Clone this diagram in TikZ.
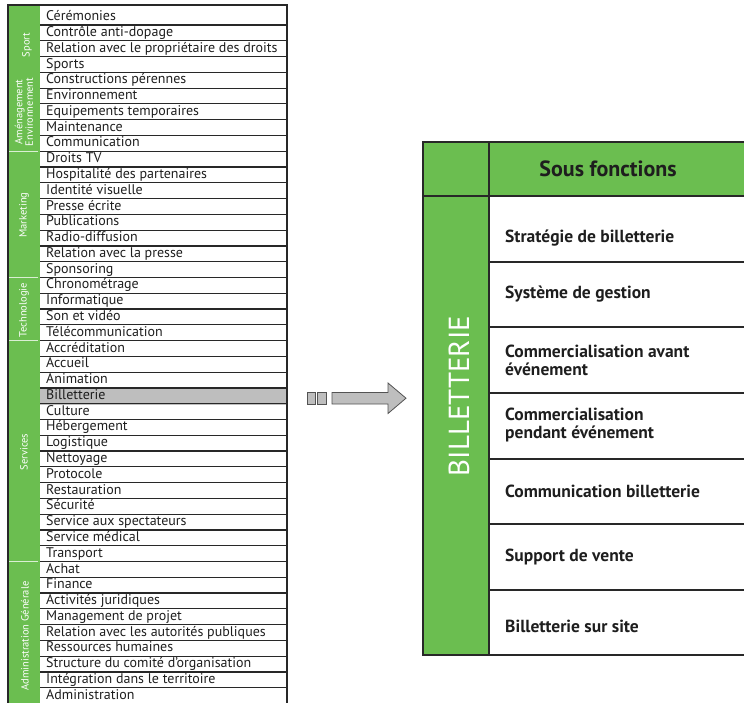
\documentclass[tikz,border=0pt]{standalone}
\usepackage{fontspec}
\setmainfont{PT Sans}
\usetikzlibrary{positioning}
\definecolor{fnGreen}{RGB}{107,190,80}
\definecolor{ruleDark}{RGB}{40,40,40}
\definecolor{rowGray}{RGB}{190,190,190}
\definecolor{inkDark}{RGB}{30,30,30}

\begin{document}
\begin{tikzpicture}[x=1pt, y=-1pt,
    rowtxt/.style={anchor=west, inner sep=0pt, text=inkDark,
      text height=9.5pt, text depth=2.5pt,
      font=\fontsize{14}{14}\selectfont},
    rowline/.style={draw=ruleDark, line width=1.2pt},
    grplabel/.style={rotate=90, text=white, align=center, inner sep=0pt,
      font=\fontsize{10.5}{10.5}\selectfont},
    grpsep/.style={draw=white!75!fnGreen, line width=1.2pt},
    frame/.style={draw=ruleDark, line width=1.4pt},
    arrowbox/.style={draw=ruleDark!80, fill=rowGray, line width=0.8pt},
    subcell/.style={anchor=west, inner sep=0pt, align=left, text=inkDark,
      font=\fontsize{17.5}{18}\selectfont\bfseries}
  ]
  \useasboundingbox (0,0) rectangle (744,703);

  % Left table: functions
  \fill[fnGreen] (8,5) rectangle (40,706);
  \fill[rowGray] (40,388.9) rectangle (287,404.6);
  \foreach \k in {1,...,43}
    \draw[rowline] (40,{25+(\k-1)*15.78}) -- (287,{25+(\k-1)*15.78});
  \foreach \txt [count=\i] in {Cérémonies, Contrôle anti-dopage,
      Relation avec le propriétaire des droits, Sports,
      Constructions pérennes, Environnement, Equipements temporaires,
      Maintenance, Communication, Droits TV, Hospitalité des partenaires,
      Identité visuelle, Presse écrite, Publications, Radio-diffusion,
      Relation avec la presse, Sponsoring, Chronométrage, Informatique,
      Son et vidéo, Télécommunication, Accréditation, Accueil, Animation,
      Billetterie, Culture, Hébergement, Logistique, Nettoyage, Protocole,
      Restauration, Sécurité, Service aux spectateurs, Service médical,
      Transport, Achat, Finance, Activités juridiques, Management de projet,
      Relation avec les autorités publiques, Ressources humaines,
      Structure du comité d'organisation, Intégration dans le territoire,
      Administration}
    \node[rowtxt] (f\i) at (46,{25+(\i-1)*15.78-7.8}) {\txt};

  % Groups
  \foreach \y in {151.2,277.5,340.6,561.5}
    \draw[grpsep] (9,\y) -- (38,\y);
  \node[grplabel] (gSport) at (27,45) {Sport};
  \node[grplabel] (gAmen) at (24,112) {Aménagement\\Environnement};
  \node[grplabel] (gMarket) at (24,215) {Marketing};
  \node[grplabel] (gTech) at (24,310) {Technologie};
  \node[grplabel] (gServ) at (24,452) {Services};
  \node[grplabel] (gAdmin) at (25,636) {Administration Générale};
  \draw[frame] (8,706) -- (8,5) -- (287,5) -- (287,706);

  % Arrow
  \draw[arrowbox] (307,392.5) rectangle (315.5,404);
  \draw[arrowbox] (317.5,392.5) rectangle (326,404);
  \draw[arrowbox] (332,392.5) -- (388,392.5) -- (388,383) -- (406,398.2)
    -- (388,413.5) -- (388,404) -- (332,404) -- cycle;

  % Right table: sub-functions
  \fill[fnGreen] (423,142) rectangle (744,196);
  \fill[fnGreen] (423,196) rectangle (489,655);
  \draw[frame] (744,142) -- (423,142) -- (423,655) -- (744,655);
  \draw[frame] (489,142) -- (489,655);
  \draw[frame] (423,196) -- (744,196);
  \foreach \y in {262,327,393,459,524,590}
    \draw[frame] (489,\y) -- (744,\y);
  \node[font=\fontsize{22}{24}\selectfont\bfseries, text=inkDark] (head)
    at (608,169) {Sous fonctions};
  \node[rotate=90, text=white, font=\fontsize{29}{29}\selectfont] (fn)
    at (459,396) {BILLETTERIE};
  \node[subcell] (s1) at (505,238) {Stratégie de billetterie};
  \node[subcell] (s2) at (505,294) {Système de gestion};
  \node[subcell] (s3) at (505,360) {Commercialisation avant\\événement};
  \node[subcell] (s4) at (505,425) {Commercialisation\\pendant événement};
  \node[subcell] (s5) at (505,491) {Communication billetterie};
  \node[subcell] (s6) at (505,557) {Support de vente};
  \node[subcell] (s7) at (505,626) {Billetterie sur site};
\end{tikzpicture}
\end{document}
